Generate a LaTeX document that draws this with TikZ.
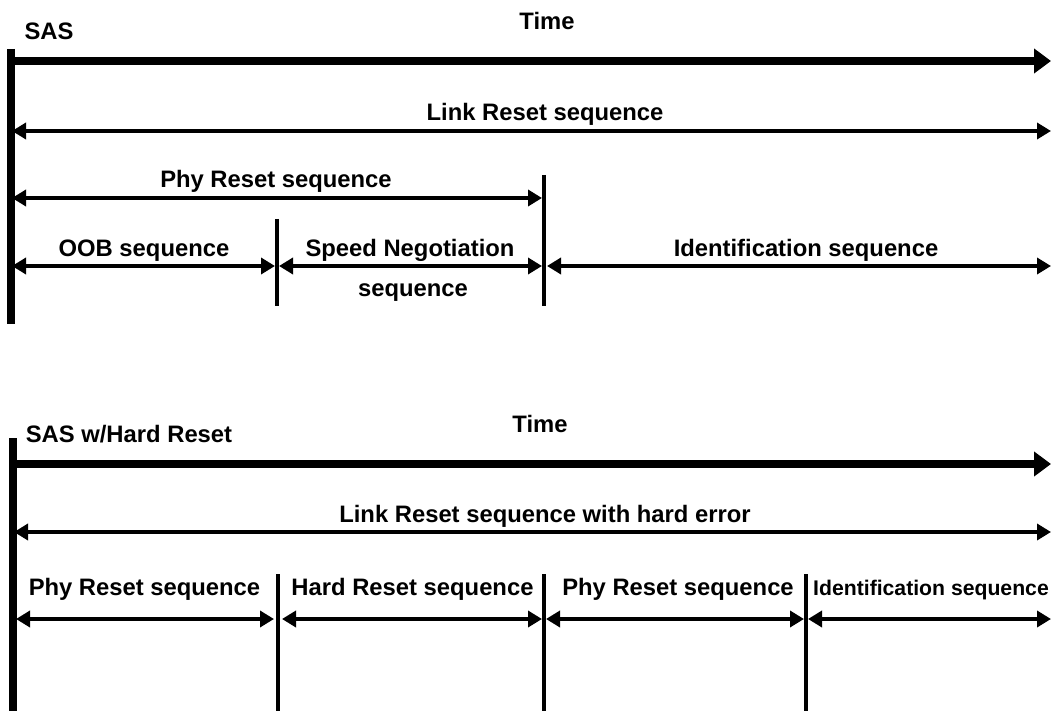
\documentclass[tikz,border=0pt]{standalone}
\usepackage{fontspec}
\setmainfont{Liberation Sans}
\usetikzlibrary{arrows.meta}
\tikzset{
  x=1pt,y=-1pt,
  lab/.style={font=\fontsize{23.8}{27}\selectfont\bfseries,inner sep=0pt,anchor=base},
  axisline/.style={line width=7.6pt,-{Triangle[length=17pt,width=24pt]}},
  span/.style={line width=3.8pt,{Triangle[length=14pt,width=16pt]}-{Triangle[length=14pt,width=16pt]}},
  bar/.style={line width=8pt},
  divider/.style={line width=3.6pt}
}
\begin{document}
\begin{tikzpicture}
\useasboundingbox (0,0) rectangle (1051,711);
% top panel
\coordinate (b1t) at (11,49);\coordinate (b1b) at (11,324);
\coordinate (t1l) at (11,61);\coordinate (t1r) at (1051,61);
\coordinate (l1l) at (12,131);\coordinate (l1r) at (1051,131);
\coordinate (p1l) at (12,198);\coordinate (p1r) at (542,198);
\coordinate (d1t) at (277,219);\coordinate (d1b) at (277,306);
\coordinate (d2t) at (544,175);\coordinate (d2b) at (544,306);
\coordinate (o1l) at (12,266);\coordinate (o1r) at (275,266);
\coordinate (s1l) at (279,266);\coordinate (s1r) at (542,266);
\coordinate (i1l) at (547,266);\coordinate (i1r) at (1051,266);
\draw[bar] (b1t) -- (b1b);
\draw[axisline] (t1l) -- (t1r);
\draw[span] (l1l) -- (l1r);
\draw[span] (p1l) -- (p1r);
\draw[divider] (d1t) -- (d1b);
\draw[divider] (d2t) -- (d2b);
\draw[span] (o1l) -- (o1r);
\draw[span] (s1l) -- (s1r);
\draw[span] (i1l) -- (i1r);
\node[lab] (sas) at (49,40) {SAS};
\node[lab] (time1) at (547,30) {Time};
\node[lab] (link1) at (545,121) {Link Reset sequence};
\node[lab] (phy1) at (276,188) {Phy Reset sequence};
\node[lab] (oob) at (144,256) {OOB sequence};
\node[lab] (speed) at (410,257) {Speed Negotiation};
\node[lab] (speed2) at (413,296) {sequence};
\node[lab] (ident1) at (806,257) {Identification sequence};
% bottom panel
\coordinate (b2t) at (13,438);\coordinate (b2b) at (13,711);
\coordinate (t2l) at (13,464);\coordinate (t2r) at (1051,464);
\coordinate (l2l) at (14,532);\coordinate (l2r) at (1051,532);
\coordinate (d3t) at (278,574);\coordinate (d3b) at (278,711);
\coordinate (d4t) at (544,574);\coordinate (d4b) at (544,711);
\coordinate (d5t) at (806,574);\coordinate (d5b) at (806,711);
\coordinate (r1l) at (16,619);\coordinate (r1r) at (274,619);
\coordinate (r2l) at (282,619);\coordinate (r2r) at (542,619);
\coordinate (r3l) at (546,619);\coordinate (r3r) at (804,619);
\coordinate (r4l) at (808,619);\coordinate (r4r) at (1051,619);
\draw[bar] (b2t) -- (b2b);
\draw[axisline] (t2l) -- (t2r);
\draw[span] (l2l) -- (l2r);
\draw[divider] (d3t) -- (d3b);
\draw[divider] (d4t) -- (d4b);
\draw[divider] (d5t) -- (d5b);
\draw[span] (r1l) -- (r1r);
\draw[span] (r2l) -- (r2r);
\draw[span] (r3l) -- (r3r);
\draw[span] (r4l) -- (r4r);
\node[lab] (sas2) at (129,442) {SAS w/Hard Reset};
\node[lab] (time2) at (540,432) {Time};
\node[lab] (link2) at (545,522) {Link Reset sequence with hard error};
\node[lab] (phy2) at (144.5,595) {Phy Reset sequence};
\node[lab] (hard) at (412.5,595) {Hard Reset sequence};
\node[lab] (phy3) at (678,595) {Phy Reset sequence};
\node[lab,anchor=base west,font=\fontsize{21.2}{25}\selectfont\bfseries] (ident2) at (813,595) {Identification sequence};
\end{tikzpicture}
\end{document}
